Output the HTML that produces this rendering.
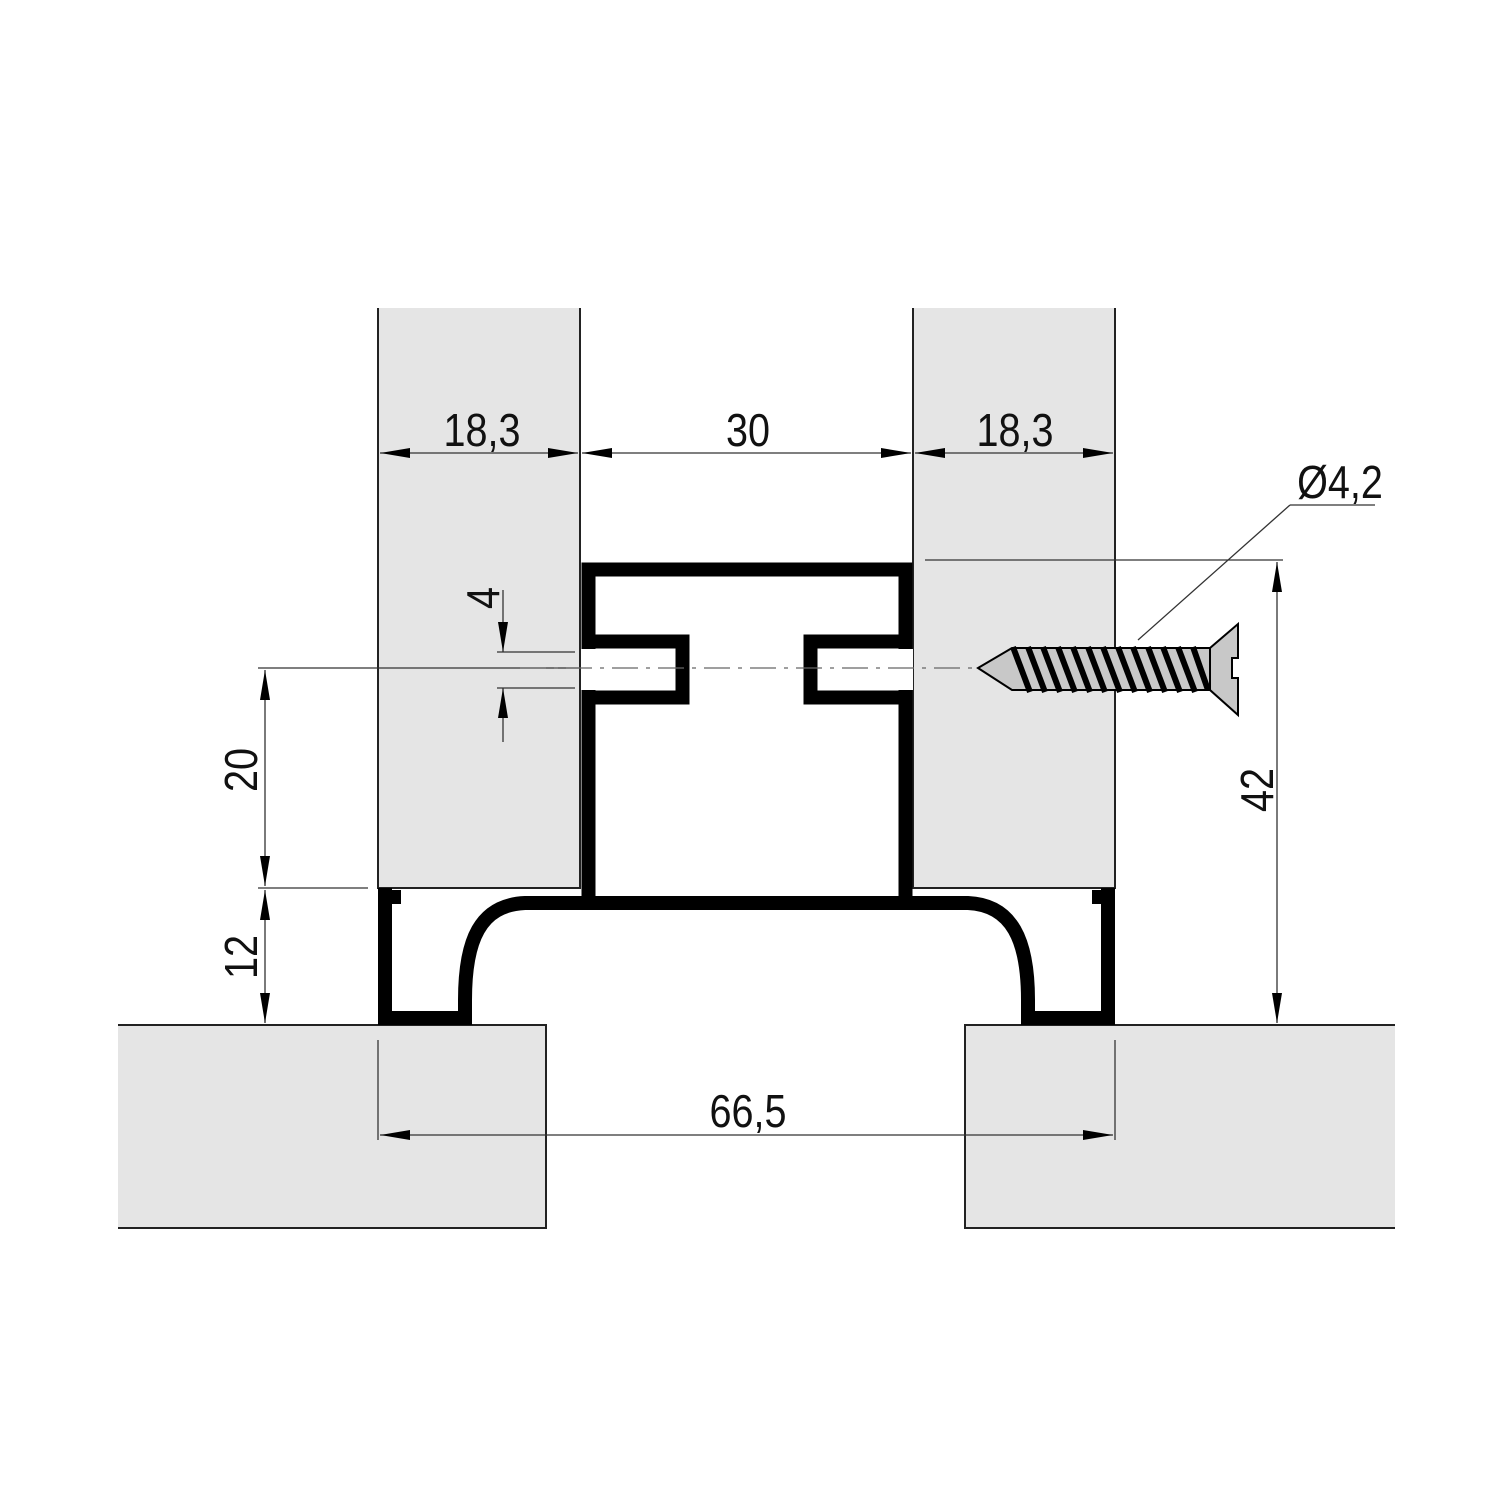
<!DOCTYPE html>
<html><head><style>body{margin:0;background:#fff}svg{display:block}text{font-family:"Liberation Sans",sans-serif;font-size:46px;fill:#111}</style></head><body>
<svg width="1500" height="1500" viewBox="0 0 1500 1500" xmlns="http://www.w3.org/2000/svg">
<defs><marker id="a" viewBox="0 0 30 10" refX="30" refY="5" markerWidth="30" markerHeight="10" markerUnits="userSpaceOnUse" orient="auto-start-reverse"><path d="M0,0 L30,5 L0,10 Z" fill="#000"/></marker></defs>
<g fill="#e5e5e5">
<rect x="378" y="308" width="202" height="580"/>
<rect x="913" y="308" width="202" height="580"/>
<rect x="118" y="1025" width="428" height="203"/>
<rect x="965" y="1025" width="430" height="203"/>
</g>
<g fill="none" stroke="#222" stroke-width="2">
<path d="M378,308 V888 H580 V308"/>
<path d="M913,308 V888 H1115 V308"/>
<path d="M118,1025 H546 V1228 H118"/>
<path d="M1395,1025 H965 V1228 H1395"/>
</g>
<g fill="none" stroke="#000" stroke-width="14">
<path d="M385,888 V1018 H465 V1000 C465,940 480,905 525,903 H968 C1012,905 1028,940 1028,1000 V1018 H1108 V888"/>
<path d="M588.5,903 V569.5 H905.5 V903"/>
<path d="M588.5,641.5 H682.5 V697.5 H588.5"/>
<path d="M905.5,641.5 H810.5 V697.5 H905.5"/>
</g>
<rect x="581" y="649" width="15" height="41" fill="#fff"/>
<rect x="898" y="649" width="15" height="41" fill="#fff"/>
<rect x="392" y="890" width="9" height="14" fill="#000"/>
<rect x="1092" y="890" width="9" height="14" fill="#000"/>
<g stroke="#333" stroke-width="1.3" fill="none">
<line x1="380" y1="453" x2="578" y2="453" marker-start="url(#a)" marker-end="url(#a)"/>
<line x1="582" y1="453" x2="911" y2="453" marker-start="url(#a)" marker-end="url(#a)"/>
<line x1="915" y1="453" x2="1113" y2="453" marker-start="url(#a)" marker-end="url(#a)"/>
<line x1="258" y1="668" x2="580" y2="668"/>
<line x1="258" y1="888" x2="368" y2="888"/>
<line x1="265" y1="670" x2="265" y2="886" marker-start="url(#a)" marker-end="url(#a)"/>
<line x1="265" y1="890" x2="265" y2="1023" marker-start="url(#a)" marker-end="url(#a)"/>
<line x1="497" y1="652" x2="575" y2="652"/>
<line x1="497" y1="688" x2="575" y2="688"/>
<line x1="503" y1="590" x2="503" y2="652" marker-end="url(#a)"/>
<line x1="503" y1="742" x2="503" y2="688" marker-end="url(#a)"/>
<line x1="925" y1="560" x2="1283" y2="560"/>
<line x1="1277" y1="562" x2="1277" y2="1023" marker-start="url(#a)" marker-end="url(#a)"/>
<line x1="378" y1="1040" x2="378" y2="1140"/>
<line x1="1115" y1="1040" x2="1115" y2="1140"/>
<line x1="380" y1="1135" x2="1113" y2="1135" marker-start="url(#a)" marker-end="url(#a)"/>
<line x1="1290" y1="505" x2="1375" y2="505"/>
<line x1="1290" y1="505" x2="1138" y2="640"/>
<line x1="520" y1="668" x2="975" y2="668" stroke="#666" stroke-dasharray="26,8,4,8"/>
</g>
<g stroke="#000" stroke-width="2" fill="#c8c8c8">
<path d="M978,668 L1012,648 H1210 V690 H1012 Z"/>
<path d="M1210,648 L1238,624 V658 H1232 V678 H1238 V715 L1210,690 Z"/>
</g>
<g stroke="#000" stroke-width="6">
<line x1="1013" y1="647" x2="1030" y2="692"/><line x1="1028" y1="647" x2="1045" y2="692"/><line x1="1043" y1="647" x2="1060" y2="692"/><line x1="1058" y1="647" x2="1075" y2="692"/><line x1="1073" y1="647" x2="1090" y2="692"/><line x1="1088" y1="647" x2="1105" y2="692"/><line x1="1103" y1="647" x2="1120" y2="692"/><line x1="1118" y1="647" x2="1135" y2="692"/><line x1="1133" y1="647" x2="1150" y2="692"/><line x1="1148" y1="647" x2="1165" y2="692"/><line x1="1163" y1="647" x2="1180" y2="692"/><line x1="1178" y1="647" x2="1195" y2="692"/><line x1="1193" y1="647" x2="1208" y2="690"/>
</g>
<text transform="translate(482,446) scale(0.86,1)" text-anchor="middle">18,3</text>
<text transform="translate(748,446) scale(0.86,1)" text-anchor="middle">30</text>
<text transform="translate(1015,446) scale(0.86,1)" text-anchor="middle">18,3</text>
<text transform="translate(1340,498) scale(0.86,1)" text-anchor="middle">Ø4,2</text>
<text transform="translate(748,1127) scale(0.86,1)" text-anchor="middle">66,5</text>
<text transform="translate(257,770) rotate(-90) scale(0.86,1)" text-anchor="middle">20</text>
<text transform="translate(257,957) rotate(-90) scale(0.86,1)" text-anchor="middle">12</text>
<text transform="translate(499,598) rotate(-90) scale(0.86,1)" text-anchor="middle">4</text>
<text transform="translate(1273,790) rotate(-90) scale(0.86,1)" text-anchor="middle">42</text>
</svg>
</body></html>
